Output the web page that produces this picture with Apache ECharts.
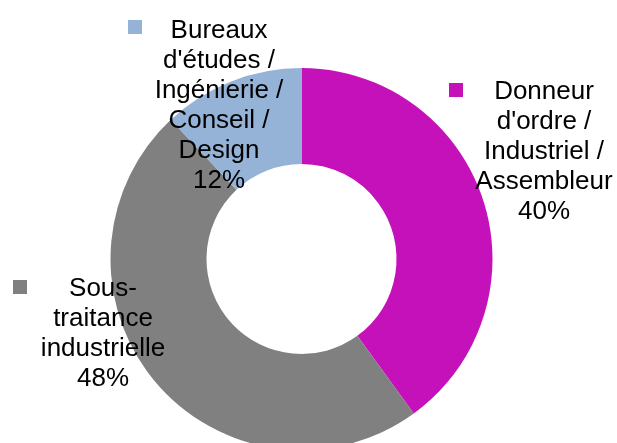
<!DOCTYPE html>
<html>
<head>
<meta charset="utf-8">
<script src="https://cdn.jsdelivr.net/npm/echarts@6/dist/echarts.min.js"></script>
<style>
html,body{margin:0;padding:0;background:#fff;}
#c{width:617px;height:443px;}
</style>
</head>
<body>
<div id="c"></div>
<script>
const categories = [
  "Donneur\nd'ordre /\nIndustriel /\nAssembleur",
  "Sous-\ntraitance\nindustrielle",
  "Bureaux\nd'études /\nIngénierie /\nConseil /\nDesign"
];
const values = [40, 48, 12];
const colors = ['#C511B9', '#808080', '#95B3D7'];

// label anchor (center-x, top-y) and legend marker positions
const labelPos = [[544, 77], [103, 274], [219, 16]];
const markerPos = [[449, 83], [13, 280], [128, 20]];

const chart = echarts.init(document.getElementById('c'), null, {renderer: 'canvas'});
const data = categories.map((c, i) => ({name: c, value: values[i], itemStyle: {color: colors[i]}}));

const legends = categories.map((c, i) => ({
  data: [c],
  left: markerPos[i][0],
  top: markerPos[i][1],
  padding: 0,
  itemWidth: 14,
  itemHeight: 14,
  icon: 'rect',
  selectedMode: false,
  formatter: () => '',
  textStyle: {fontSize: 1}
}));

chart.setOption({
  animation: false,
  backgroundColor: '#fff',
  legend: legends,
  series: [{
    type: 'pie',
    center: [301.5, 259],
    radius: [95, 191],
    startAngle: 90,
    clockwise: true,
    silent: true,
    avoidLabelOverlap: false,
    itemStyle: {borderWidth: 0},
    label: {
      show: true,
      position: 'outside',
      formatter: p => p.name + '\n' + Math.round(p.percent) + '%',
      fontFamily: 'Liberation Sans, Arial, sans-serif',
      fontSize: 26,
      lineHeight: 30,
      color: '#000',
      align: 'center'
    },
    labelLine: {show: false},
    labelLayout: function (params) {
      const i = params.dataIndex;
      return {x: labelPos[i][0], y: labelPos[i][1], align: 'center', verticalAlign: 'top'};
    },
    data: data
  }]
});
</script>
</body>
</html>
